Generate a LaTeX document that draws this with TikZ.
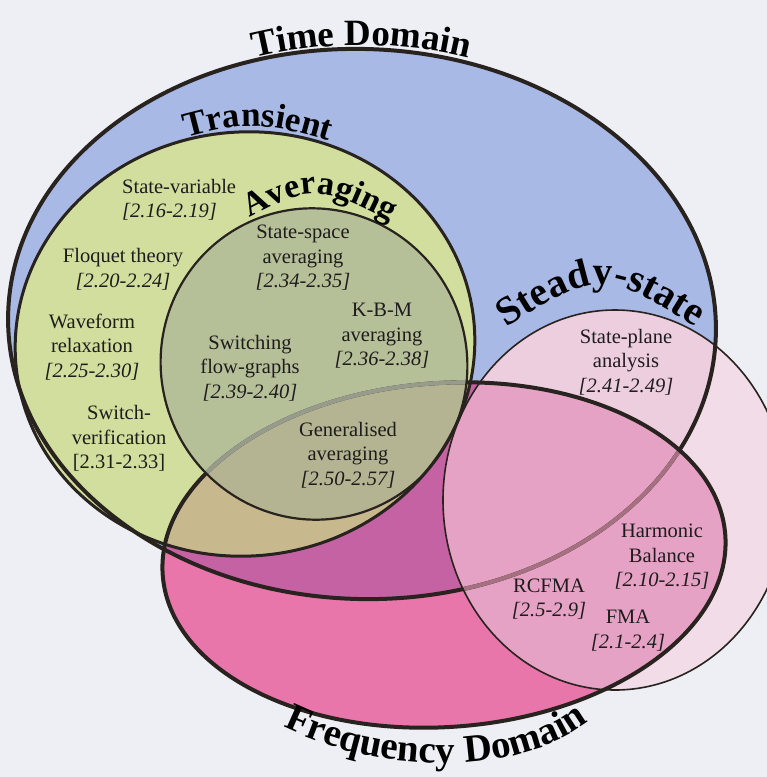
\documentclass[tikz,border=0pt]{standalone}
\usepackage{fontspec}
\setmainfont{Liberation Serif}
\usetikzlibrary{decorations.text}
\definecolor{bgc}{RGB}{237,239,245}
\definecolor{timeblue}{RGB}{168,185,230}
\definecolor{trgreen}{RGB}{209,222,158}
\definecolor{avgc}{RGB}{182,192,152}
\definecolor{fpink}{RGB}{232,118,170}
\definecolor{fmag}{RGB}{196,98,163}
\definecolor{ftan}{RGB}{200,184,142}
\definecolor{favg}{RGB}{180,180,146}
\definecolor{sspale}{RGB}{241,220,231}
\definecolor{sslight}{RGB}{236,206,223}
\definecolor{ssmed}{RGB}{230,162,196}
\definecolor{olc}{RGB}{40,35,30}
\definecolor{fadeA}{RGB}{165,112,128}
\definecolor{fadeB}{RGB}{150,155,140}
\definecolor{txtc}{RGB}{30,28,28}
\newcommand\lblTime{\fontsize{37}{37}\selectfont\bfseries}
\newcommand\lblTran{\fontsize{35}{35}\selectfont\bfseries}
\newcommand\lblAvg{\fontsize{34}{34}\selectfont\bfseries}
\newcommand\lblSteady{\fontsize{40}{40}\selectfont\bfseries}
\newcommand\lblFreq{\fontsize{39}{39}\selectfont\bfseries}
\begin{document}
\begin{tikzpicture}[x=1pt,y=-1pt,
  txt/.style={font=\fontsize{20.5}{24.5}\selectfont, align=center, text=txtc, inner sep=0pt},
  ol/.style={draw=olc},
  curvelabel/.style={decorate, decoration={text along path, text align=center, text color=black, text={#1}}}]
\useasboundingbox (0,0) rectangle (767,777);
\fill[bgc] (0,0) rectangle (767,777);
\def\TimeE{[rotate around={-2:(362,324)}] (362,324) ellipse[x radius=354,y radius=275]}
\def\FreqE{[rotate around={4:(444,555)}] (444,555) ellipse[x radius=282,y radius=172]}
\def\TranE{[rotate around={6:(245,344)}] (245,344) ellipse[x radius=230,y radius=212]}
\def\AvgE{[rotate around={20:(314,364)}] (314,364) ellipse[x radius=153,y radius=156]}
\def\SteadyE{(615,500) ellipse[x radius=172,y radius=190]}
% fills
\fill[timeblue] \TimeE;
\fill[trgreen] \TranE;
\fill[avgc] \AvgE;
\begin{scope}
  \clip \FreqE;
  \fill[fpink] (0,0) rectangle (767,777);
  \clip \TimeE;
  \fill[fmag] (0,0) rectangle (767,777);
  \clip \TranE;
  \fill[ftan] (0,0) rectangle (767,777);
  \clip \AvgE;
  \fill[favg] (0,0) rectangle (767,777);
\end{scope}
\fill[sspale] \SteadyE;
\begin{scope}
  \clip \SteadyE;
  \fill[sslight] \TimeE;
\end{scope}
\begin{scope}
  \clip \SteadyE;
  \clip \FreqE;
  \fill[ssmed] (0,0) rectangle (767,777);
\end{scope}
% outlines
\draw[ol, line width=4] \TimeE;
\begin{scope}
  \clip \SteadyE;
  \clip \FreqE;
  \draw[fadeA, line width=4] \TimeE;
\end{scope}
\draw[ol, line width=4] \FreqE;
\begin{scope}
  \clip \AvgE;
  \draw[fadeB, line width=4.2] \FreqE;
\end{scope}
\draw[ol, line width=3] \TranE;
\draw[ol, line width=2.2] \AvgE;
\draw[ol, line width=1.6] \SteadyE;
% curved labels
\path[curvelabel={|\lblTime|Time Domain}] (156.7,95.8) arc[start angle=235, end angle=305, x radius=357, y radius=280];
\path[curvelabel={|\lblTran|Transient}] (150,148) .. controls (255,118) .. (365,152);
\path[curvelabel={|\lblAvg|Averaging}] (230,228) .. controls (315,182) .. (410,232);
\path[curvelabel={|\lblSteady|Steady-state}] (480,345) .. controls (600,265) .. (722,345);
\path[curvelabel={|\lblFreq|Frequency Domain}] (255,712) .. controls (325,752) and (385,763) .. (445,763) .. controls (515,763) and (575,742) .. (612,700);
% texts
\node[txt, align=left, anchor=west] (sv) at (122,200) {State-variable\\\textit{[2.16-2.19]}};
\node[txt] (fl) at (123,269.5) {Floquet theory\\\textit{[2.20-2.24]}};
\node[txt] (wr) at (92,347) {Waveform\\relaxation\\\textit{[2.25-2.30]}};
\node[txt] (sw) at (119,438.5) {Switch-\\verification\\{[2.31-2.33]}};
\node[txt] (ss) at (303,258) {State-space\\averaging\\\textit{[2.34-2.35]}};
\node[txt] (kbm) at (382,336) {K-B-M\\averaging\\\textit{[2.36-2.38]}};
\node[txt] (sfg) at (250,368) {Switching\\flow-graphs\\\textit{[2.39-2.40]}};
\node[txt] (ga) at (348,455) {Generalised\\averaging\\\textit{[2.50-2.57]}};
\node[txt] (sp) at (626,362) {State-plane\\analysis\\\textit{[2.41-2.49]}};
\node[txt] (hb) at (662,557) {Harmonic\\Balance\\\textit{[2.10-2.15]}};
\node[txt] (rc) at (549,599) {RCFMA\\\textit{[2.5-2.9]}};
\node[txt] (fma) at (628,630.5) {FMA\\\textit{[2.1-2.4]}};
\end{tikzpicture}
\end{document}
